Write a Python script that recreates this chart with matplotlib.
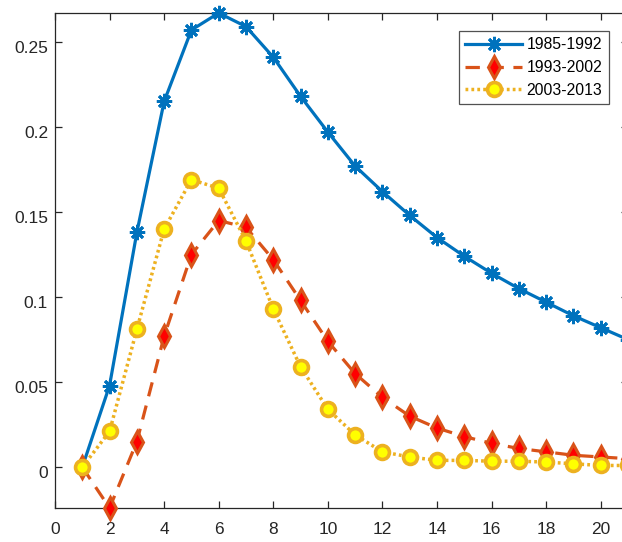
import numpy as np
import matplotlib
matplotlib.use('Agg')
import matplotlib.pyplot as plt
import matplotlib.transforms as mtransforms

plt.rcParams['font.family'] = ['Liberation Sans', 'DejaVu Sans']

# data
periods = np.arange(1, 22)
s1985 = [0, 0.048, 0.138, 0.215, 0.257, 0.267, 0.259, 0.241, 0.218, 0.197, 0.177,
         0.162, 0.148, 0.135, 0.124, 0.114, 0.105, 0.097, 0.089, 0.082, 0.075]
s1993 = [0, -0.024, 0.015, 0.077, 0.125, 0.145, 0.141, 0.122, 0.098, 0.074, 0.055,
         0.041, 0.030, 0.023, 0.018, 0.014, 0.011, 0.009, 0.007, 0.006, 0.005]
s2003 = [0, 0.021, 0.081, 0.140, 0.169, 0.164, 0.133, 0.093, 0.059, 0.034, 0.019,
         0.009, 0.006, 0.004, 0.004, 0.0035, 0.0035, 0.003, 0.002, 0.001, 0.001]
labels = ['1985-1992', '1993-2002', '2003-2013']
xticks = np.arange(0, 21, 2)
yticks = [0, 0.05, 0.1, 0.15, 0.2, 0.25]
ytick_labels = ['0', '0.05', '0.1', '0.15', '0.2', '0.25']

W, H = 622, 542
fig = plt.figure(figsize=(W / 100, H / 100), dpi=100)
# axes box in pixels: left 55, right 628 (just past the crop), top 13, bottom 508
ax = fig.add_axes([55 / W, 1 - 508 / H, (628 - 55) / W, (508 - 13) / H])

ax.plot(periods, s1985, color='#0072BD', lw=2.3, marker=(8, 2, 0), ms=11,
        mew=2.0, label=labels[0], clip_on=False, zorder=3)
ax.plot(periods, s1993, color='#D95319', lw=2.3, ls=(0, (4.5, 3)), marker='d', ms=11,
        mfc='#FF0000', mec='#D95319', mew=2.2, label=labels[1], clip_on=False, zorder=4)
ax.plot(periods, s2003, color='#EDB120', lw=2.5, ls=(0, (0.8, 0.9)), marker='o', ms=10,
        mfc='#FFFF00', mec='#EDB120', mew=2.6, label=labels[2], clip_on=False, zorder=5)

ax.set_xlim(0, 21)
ax.set_ylim(-0.024, 0.267)
ax.set_xticks(xticks)
ax.set_yticks(yticks)
ax.set_yticklabels(ytick_labels)
ax.tick_params(direction='in', length=5, width=0.9, top=True, right=True,
               labelsize=12.5, colors='#262626')
ax.tick_params(axis='x', pad=10)
ax.tick_params(axis='y', pad=5)
# matlab puts y labels a little below their ticks
shift = mtransforms.ScaledTranslation(0, -3.5 / 72, fig.dpi_scale_trans)
for lbl in ax.get_yticklabels():
    lbl.set_transform(lbl.get_transform() + shift)
for sp in ax.spines.values():
    sp.set_color('#262626')
    sp.set_linewidth(0.9)

leg = ax.legend(loc='upper left', bbox_to_anchor=((459 - 55) / (628 - 55), 1 - (31 - 13) / (508 - 13)),
                fontsize=11.3, frameon=True, fancybox=False, handlelength=3.6,
                borderpad=0.4, labelspacing=0.5, handletextpad=0.3, borderaxespad=0)
leg.get_frame().set_edgecolor('#262626')
leg.get_frame().set_linewidth(0.9)

fig.savefig('out.png', dpi=100)
